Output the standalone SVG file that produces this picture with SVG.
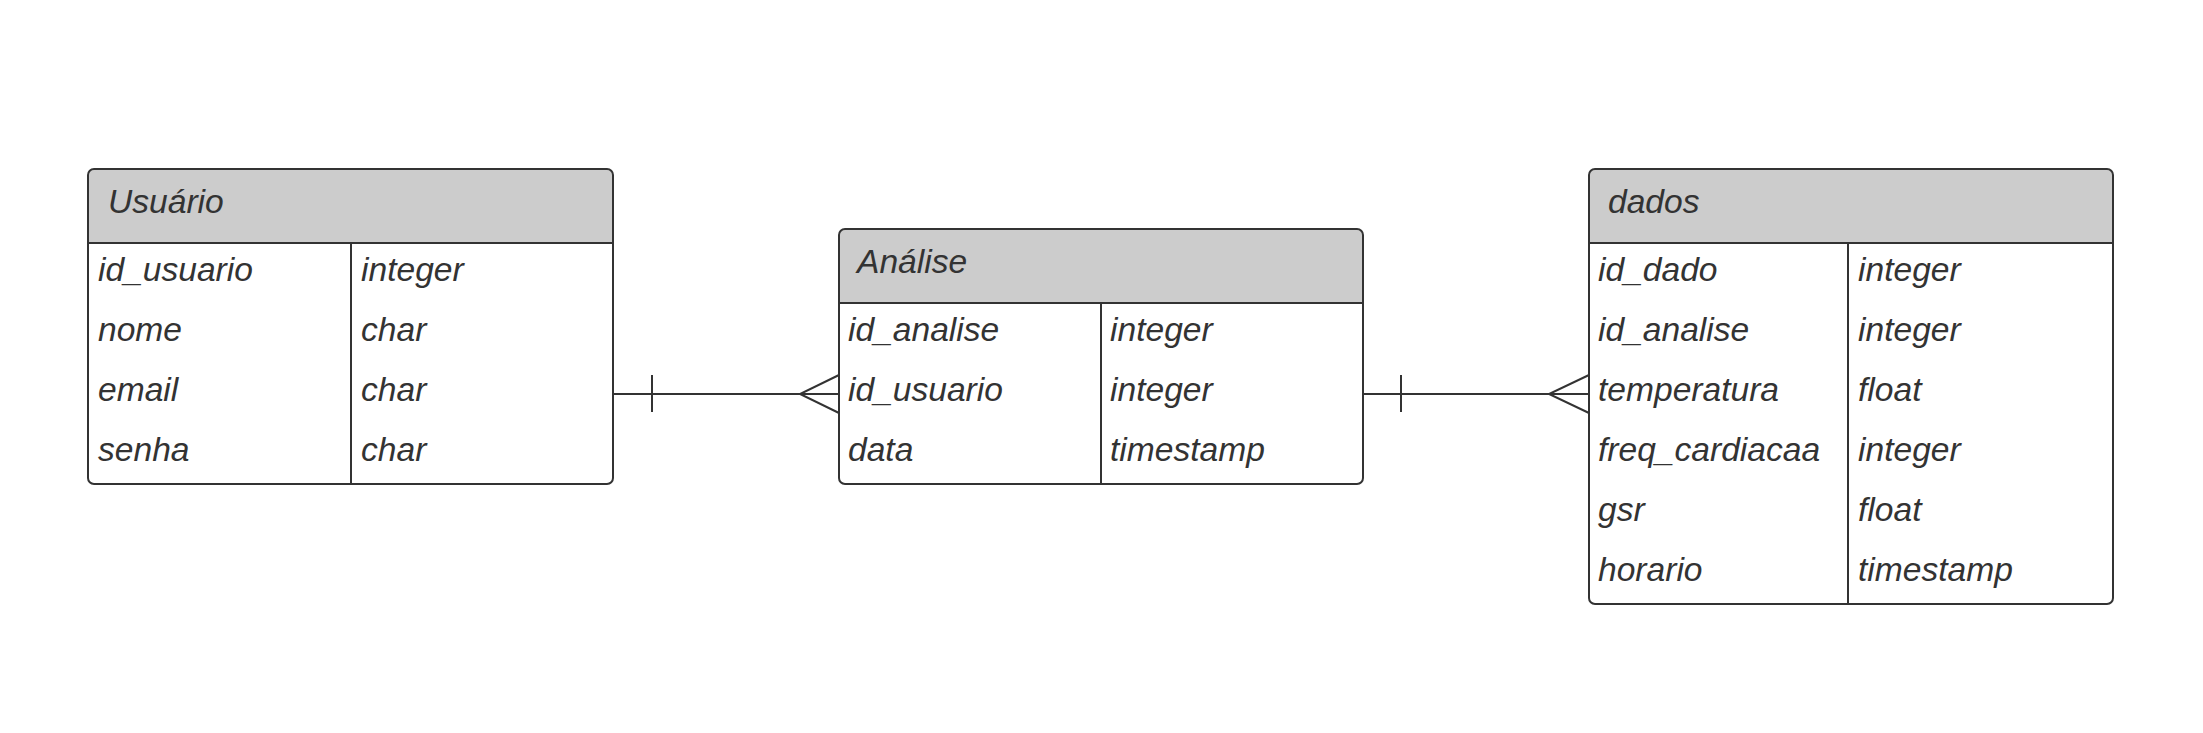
<svg xmlns="http://www.w3.org/2000/svg" width="2203" height="733" viewBox="0 0 2203 733">
<defs>
<style>
.box{fill:none;stroke:#333333;stroke-width:2}
.hdr{fill:#cccccc}
.ln{stroke:#333333;stroke-width:2;fill:none}
text{font-family:"Liberation Sans",Arial,sans-serif;font-style:italic;font-size:33.6px;fill:#333333}
</style>
</defs>
<rect width="2203" height="733" fill="#ffffff"/>
<g id="connectors">
<path class="ln" d="M613 394H839M652 375V412M839 375L800 394L839 413"/>
<path class="ln" d="M1363 394H1589M1401 375V412M1589 375L1549 394L1589 413"/>
</g>
<g id="usuario">
<path class="hdr" d="M94 169H607a6 6 0 0 1 6 6V243H88V175a6 6 0 0 1 6-6z"/>
<rect class="box" x="88" y="169" width="525" height="315" rx="6"/>
<path class="ln" d="M88 243H613M351 243V484"/>
<text x="108" y="213">Usuário</text>
<text x="98" y="281">id_usuario</text><text x="361" y="281">integer</text>
<text x="98" y="341">nome</text><text x="361" y="341">char</text>
<text x="98" y="401">email</text><text x="361" y="401">char</text>
<text x="98" y="461">senha</text><text x="361" y="461">char</text>
</g>
<g id="analise">
<path class="hdr" d="M845 229H1357a6 6 0 0 1 6 6V303H839V235a6 6 0 0 1 6-6z"/>
<rect class="box" x="839" y="229" width="524" height="255" rx="6"/>
<path class="ln" d="M839 303H1363M1101 303V484"/>
<text x="857" y="273">Análise</text>
<text x="848" y="341">id_analise</text><text x="1110" y="341">integer</text>
<text x="848" y="401">id_usuario</text><text x="1110" y="401">integer</text>
<text x="848" y="461">data</text><text x="1110" y="461">timestamp</text>
</g>
<g id="dados">
<path class="hdr" d="M1595 169H2107a6 6 0 0 1 6 6V243H1589V175a6 6 0 0 1 6-6z"/>
<rect class="box" x="1589" y="169" width="524" height="435" rx="6"/>
<path class="ln" d="M1589 243H2113M1848 243V604"/>
<text x="1608" y="213">dados</text>
<text x="1598" y="281">id_dado</text><text x="1858" y="281">integer</text>
<text x="1598" y="341">id_analise</text><text x="1858" y="341">integer</text>
<text x="1598" y="401">temperatura</text><text x="1858" y="401">float</text>
<text x="1598" y="461">freq_cardiacaa</text><text x="1858" y="461">integer</text>
<text x="1598" y="521">gsr</text><text x="1858" y="521">float</text>
<text x="1598" y="581">horario</text><text x="1858" y="581">timestamp</text>
</g>
</svg>
